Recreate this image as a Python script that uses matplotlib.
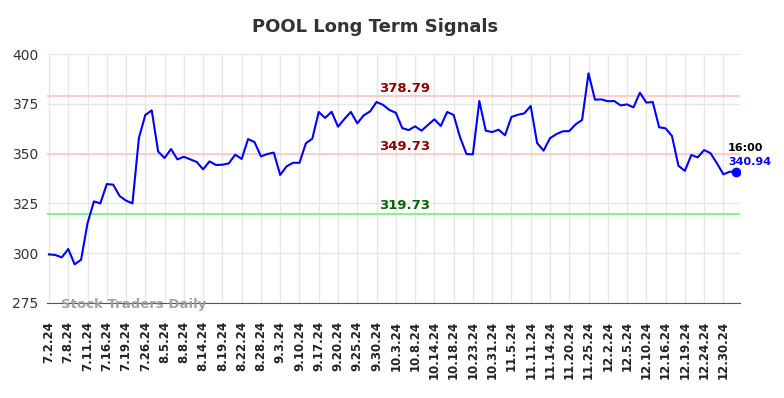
import matplotlib
matplotlib.use('Agg')
import matplotlib.pyplot as plt

# closing prices, one per trading session
prices = [
    299.4, 299.1, 297.9, 302.1, 294.4, 296.7, 315.0, 326.0, 325.0, 334.7,
    334.4, 328.7, 326.4, 325.0, 357.8, 369.4, 371.7, 351.0, 347.8, 352.3,
    347.1, 348.4, 347.1, 345.8, 342.1, 346.1, 344.3, 344.4, 345.1, 349.5,
    347.3, 357.3, 355.8, 348.6, 349.8, 350.5, 339.3, 343.6, 345.4, 345.4,
    355.2, 357.5, 370.9, 367.9, 371.0, 363.5, 367.4, 370.9, 365.2, 369.2,
    371.2, 375.9, 374.5, 371.9, 370.5, 362.8, 361.8, 363.7, 361.5, 364.4,
    367.2, 363.9, 370.9, 369.4, 358.2, 349.8, 349.6, 376.4, 361.5, 360.8,
    362.0, 359.2, 368.4, 369.5, 370.2, 373.9, 355.3, 351.5, 357.7, 359.8,
    361.2, 361.3, 364.7, 366.9, 390.3, 377.1, 377.2, 376.3, 376.4, 374.2,
    374.7, 373.2, 380.6, 375.6, 375.9, 363.2, 362.7, 358.8, 343.9, 341.3,
    349.3, 348.1, 351.8, 350.2, 345.1, 339.6, 340.9, 340.94,
]

tick_labels = [
    '7.2.24', '7.8.24', '7.11.24', '7.16.24', '7.19.24', '7.26.24',
    '8.5.24', '8.8.24', '8.14.24', '8.19.24', '8.22.24', '8.28.24',
    '9.3.24', '9.10.24', '9.17.24', '9.20.24', '9.25.24', '9.30.24',
    '10.3.24', '10.8.24', '10.14.24', '10.18.24', '10.23.24', '10.31.24',
    '11.5.24', '11.11.24', '11.14.24', '11.20.24', '11.25.24', '12.2.24',
    '12.5.24', '12.10.24', '12.16.24', '12.19.24', '12.24.24', '12.30.24',
]

upper_resist = 378.79
mid_resist = 349.73
support = 319.73
last_time = '16:00'

xs = list(range(len(prices)))

fig = plt.figure(figsize=(7.84, 3.98), dpi=100)
ax = fig.add_axes([0.06, 0.2387, 0.884, 0.6256])

ax.set_xlim(-0.3, len(prices) - 0.4)
ax.set_ylim(275, 400)
ax.set_yticks([275, 300, 325, 350, 375, 400])
ax.set_xticks(xs[::3])
ax.set_xticklabels(tick_labels, rotation=90, fontweight='bold', fontsize=8.5)
ax.tick_params(axis='both', length=0)
ax.tick_params(axis='x', pad=13, colors='#222222')
ax.tick_params(axis='y', pad=6, labelsize=10, colors='#333333')
ax.grid(True, color='#e6e6e6', linewidth=1)
ax.set_axisbelow(True)
for side in ['left', 'right', 'top']:
    ax.spines[side].set_visible(False)
ax.spines['bottom'].set_color('#555555')

ax.axhline(upper_resist, color='#ffcccc', linewidth=1.5)
ax.axhline(mid_resist, color='#ffcccc', linewidth=1.5)
ax.axhline(support, color='#90ee90', linewidth=1.5)

lab_x = 55.3
ax.text(lab_x, upper_resist + 0.8, f'{upper_resist:.2f}', color='#8b0000',
        fontweight='bold', fontsize=9.5, ha='center', va='bottom')
ax.text(lab_x, mid_resist + 0.8, f'{mid_resist:.2f}', color='#8b0000',
        fontweight='bold', fontsize=9.5, ha='center', va='bottom')
ax.text(lab_x, support + 0.8, f'{support:.2f}', color='#006400',
        fontweight='bold', fontsize=9.5, ha='center', va='bottom')

ax.plot(xs, prices, color='#0000ff', linewidth=1.5)
ax.plot(xs[-1], prices[-1], 'o', color='#0000ff', markersize=6)

ax.text(xs[-1] - 1.3, prices[-1] + 12, last_time, color='black',
        fontweight='bold', fontsize=8, ha='left', va='center')
ax.text(xs[-1] - 1.3, prices[-1] + 5, f'{prices[-1]:.2f}', color='#0000ff',
        fontweight='bold', fontsize=8, ha='left', va='center')

ax.text(1.9, 274.4, 'Stock Traders Daily', color='#999999', fontweight='bold',
        fontsize=9.5, ha='left', va='center', alpha=0.9, clip_on=False)

fig.suptitle('POOL Long Term Signals', fontsize=13, fontweight='bold',
             color='#333333', x=0.478, y=0.955)

fig.savefig('out.png', dpi=100)
